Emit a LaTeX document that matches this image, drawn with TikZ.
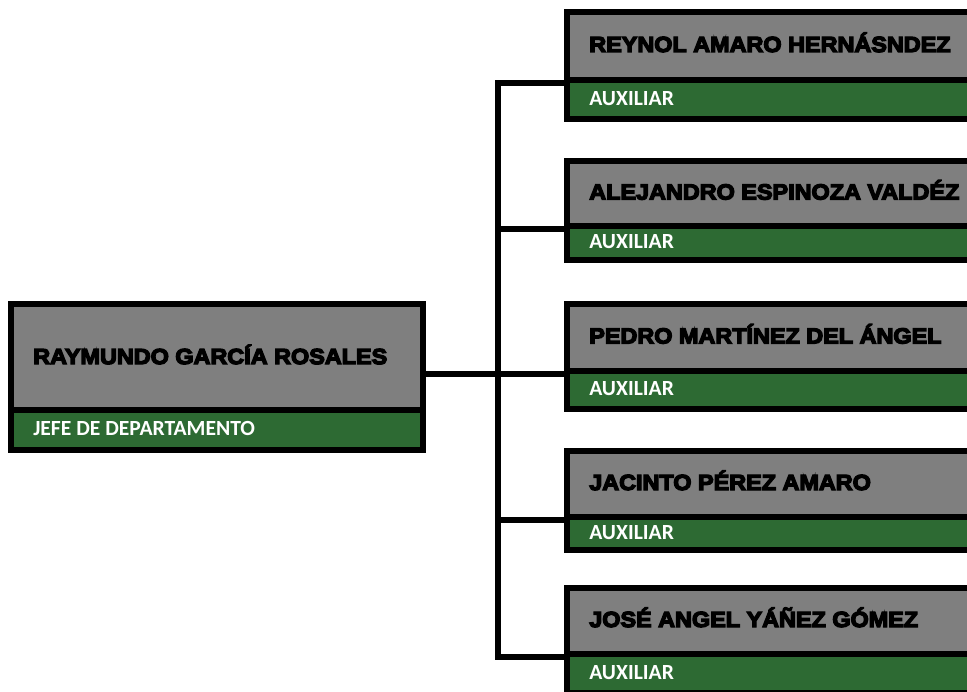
\documentclass[tikz,border=0pt]{standalone}
\usepackage{fontspec}
\newfontfamily\namefont{Liberation Sans}[UprightFont={* Bold}, FakeBold=6, FakeStretch=1.07]
\newfontfamily\rolefont{Carlito}[UprightFont={* Bold}]
\definecolor{boxgray}{RGB}{127,127,127}
\definecolor{boxgreen}{RGB}{45,106,51}
\tikzset{
  box/.style={draw=black, line width=4.5pt, anchor=north west, inner sep=0pt, minimum width={#1*0.75pt}},
  namebox/.style={box=#1, fill=boxgray},
  rolebox/.style={box=#1, fill=boxgreen},
  nametext/.style={anchor=base west, inner sep=0pt, text=black, font=\namefont\fontsize{16.4}{18}\selectfont},
  roletext/.style={anchor=base west, inner sep=0pt, text=white, font=\rolefont\fontsize{16.2}{18}\selectfont},
  conn/.style={draw=black, line width=4.5pt}
}
\begin{document}
\begin{tikzpicture}[x=0.75pt, y=-0.75pt]
\useasboundingbox (0,0) rectangle (967,692);
\clip (0,0) rectangle (967,692);
% boss
\node[namebox=412, minimum height={105.5*0.75pt}] (b) at (8,301) {};
\node[rolebox=412, minimum height={40.5*0.75pt}] (br) at (8,406.5) {};
\node[nametext] (bt) at ([xshift=18.75pt, yshift=-5.5pt]b.west) {RAYMUNDO GARCÍA ROSALES};
\node[roletext] (brt) at ([xshift=18.75pt, yshift=-4pt]br.west) {JEFE DE DEPARTAMENTO};
% subordinates
\node[namebox=440, minimum height={68*0.75pt}] (n1) at (564,9) {};
\node[rolebox=440, minimum height={39*0.75pt}] (r1) at (564,77) {};
\node[namebox=440, minimum height={65*0.75pt}] (n2) at (564,158) {};
\node[rolebox=440, minimum height={34*0.75pt}] (r2) at (564,223) {};
\node[namebox=440, minimum height={67*0.75pt}] (n3) at (564,301) {};
\node[rolebox=440, minimum height={38*0.75pt}] (r3) at (564,368) {};
\node[namebox=440, minimum height={66*0.75pt}] (n4) at (564,448) {};
\node[rolebox=440, minimum height={33*0.75pt}] (r4) at (564,514) {};
\node[namebox=440, minimum height={66*0.75pt}] (n5) at (564,585) {};
\node[rolebox=440, minimum height={39*0.75pt}] (r5) at (564,651) {};
\node[nametext] (t1) at ([xshift=18.75pt, yshift=-4.5pt]n1.west) {REYNOL AMARO HERNÁSNDEZ};
\node[nametext] (t2) at ([xshift=18.75pt, yshift=-4.5pt]n2.west) {ALEJANDRO ESPINOZA VALDÉZ};
\node[nametext] (t3) at ([xshift=18.75pt, yshift=-4.5pt]n3.west) {PEDRO MARTÍNEZ DEL ÁNGEL};
\node[nametext] (t4) at ([xshift=18.75pt, yshift=-4.5pt]n4.west) {JACINTO PÉREZ AMARO};
\node[nametext] (t5) at ([xshift=18.75pt, yshift=-4.5pt]n5.west) {JOSÉ ANGEL YÁÑEZ GÓMEZ};
\foreach \i in {1,...,5}{
  \node[roletext] (rt\i) at ([xshift=18.75pt, yshift=-4.2pt]r\i.west) {AUXILIAR};
}
% connectors
\coordinate (bus) at (498,0);
\draw[conn] (n1.south west) -| (n5.south west -| bus) -- (n5.south west);
\draw[conn] (n2.south west) -- (n2.south west -| bus);
\draw[conn] (n4.south west) -- (n4.south west -| bus);
\draw[conn] (b.east |- n3.south west) -- (n3.south west);
\end{tikzpicture}
\end{document}
